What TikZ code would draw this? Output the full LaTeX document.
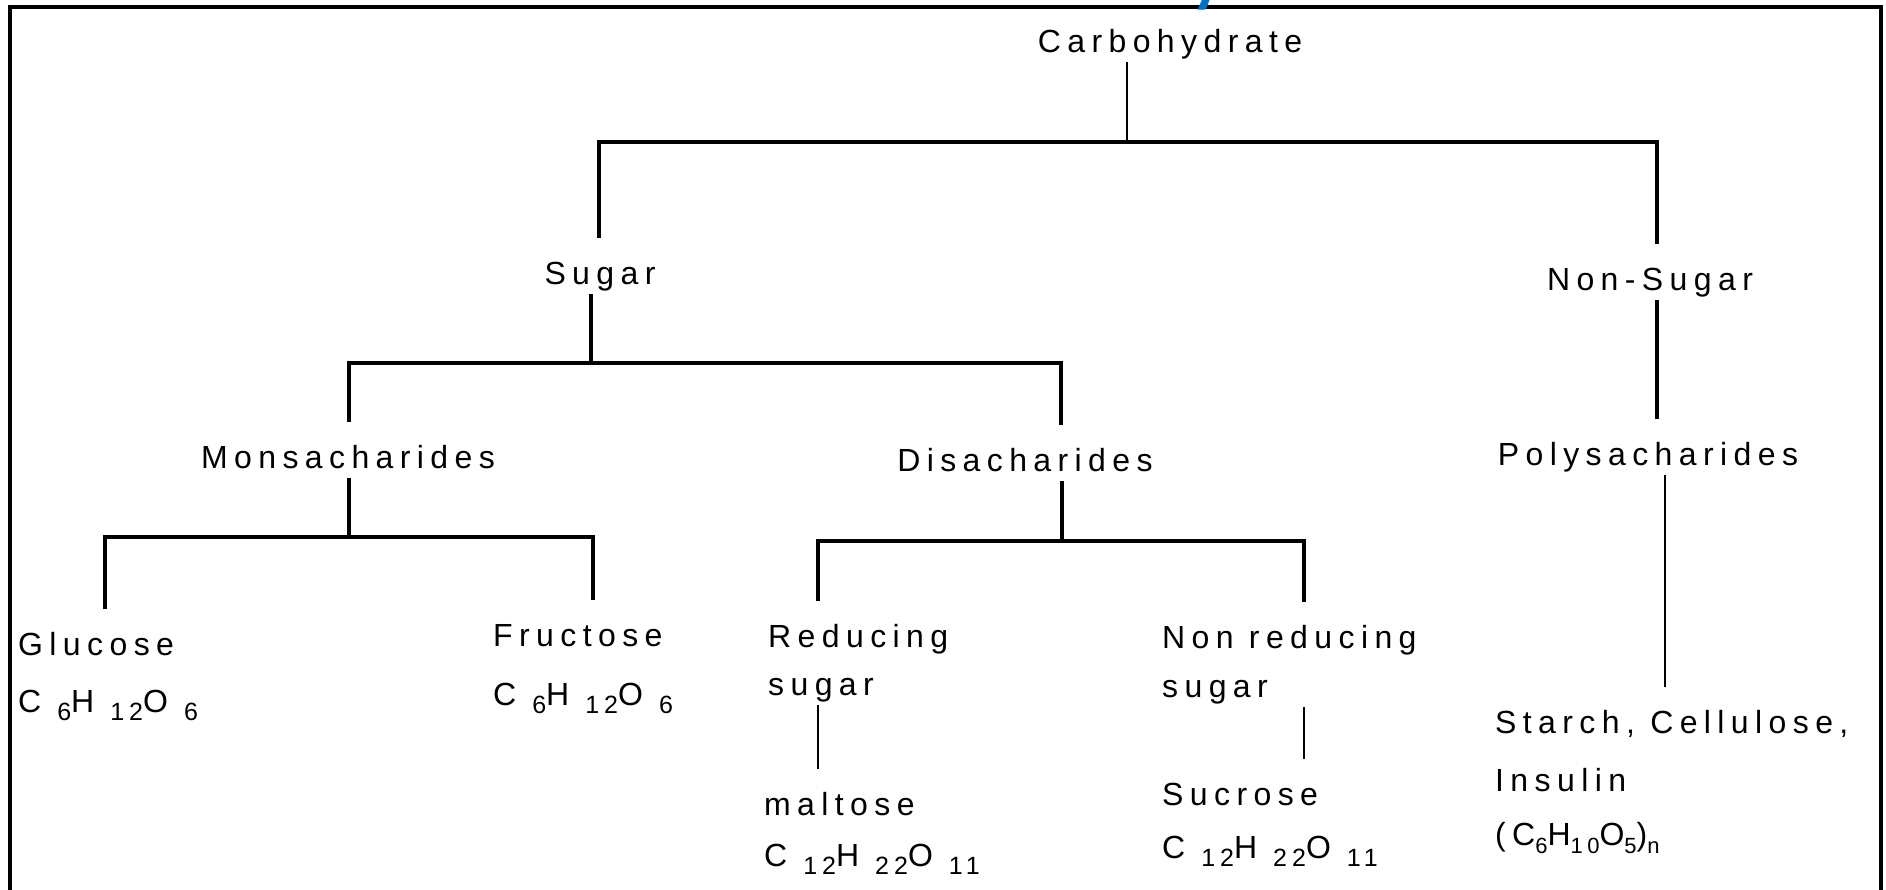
\documentclass[tikz,border=0pt]{standalone}
\usepackage{fontspec}
\setmainfont{Liberation Sans}[LetterSpace=20]
\newfontfamily\titlefont{Carlito}
\definecolor{titleblue}{RGB}{0,112,192}
\newcommand{\sbs}[2][16pt]{\hspace{#1}\raisebox{-8pt}{\fontsize{25}{28}\selectfont #2}}
\newcommand{\sbt}[1]{\raisebox{-8pt}{\fontsize{22}{26}\selectfont #1}}

\begin{document}
\begin{tikzpicture}[x=1pt,y=-1pt,
lbl/.style={inner sep=0pt,text height=46pt,text depth=10pt,
  font=\fontsize{32}{38}\selectfont},
frame/.style={line width=4pt},
bar/.style={line width=4pt},
stem/.style={line width=2.5pt}]
\useasboundingbox (0,0) rectangle (1886,889);
\draw[frame] (10,900) -- (10,7) -- (1881,7) -- (1881,900);
\node[anchor=base,text=titleblue,inner sep=0pt,
  font=\titlefont\bfseries\fontsize{68}{80}\selectfont]
  (title) at (965,-1) {Classification of Carbohydrates};

% levels
\node[lbl,anchor=base] (carb) at (1170,52) {Carbohydrate};
\node[lbl,anchor=base] (sugar) at (600,284) {Sugar};
\node[lbl,anchor=base] (nonsugar) at (1650,290) {Non-Sugar};
\node[lbl,anchor=base] (mono) at (348,468) {Monsacharides};
\node[lbl,anchor=base] (di) at (1025,471) {Disacharides};
\node[lbl,anchor=base] (poly) at (1648,465) {Polysacharides};

% leaves
\node[lbl,anchor=base west] (glu) at (18,655) {Glucose};
\node[lbl,anchor=base west] (glu2) at (18,712) {C\sbs{6}H\sbs{12}O\sbs{6}};
\node[lbl,anchor=base west] (fru) at (493,646) {Fructose};
\node[lbl,anchor=base west] (fru2) at (493,705) {C\sbs{6}H\sbs{12}O\sbs{6}};
\node[lbl,anchor=base west] (red) at (768,647) {Reducing};
\node[lbl,anchor=base west] (red2) at (768,695) {sugar};
\node[lbl,anchor=base west] (malt) at (764,815) {maltose};
\node[lbl,anchor=base west] (malt2) at (764,866) {C\sbs{12}H\sbs{22}O\sbs{11}};
\node[lbl,anchor=base west] (nonred) at (1162,648) {Non reducing};
\node[lbl,anchor=base west] (nonred2) at (1162,697) {sugar};
\node[lbl,anchor=base west] (sucr) at (1162,805) {Sucrose};
\node[lbl,anchor=base west] (sucr2) at (1162,858) {C\sbs{12}H\sbs{22}O\sbs{11}};
\node[lbl,anchor=base west] (starch) at (1495,733) {Starch, Cellulose,};
\node[lbl,anchor=base west] (ins) at (1495,791) {Insulin};
\node[lbl,anchor=base west] (starch3) at (1495,845) {(C\sbt{6}H\sbt{10}O\sbt{5})\sbt{n}};

% bar ends
\coordinate (t0) at (1127,142);
\coordinate (t1) at (599,142);
\coordinate (t2) at (1657,142);
\coordinate (s0) at (591,363);
\coordinate (s1) at (349,363);
\coordinate (s2) at (1061,363);
\coordinate (m0) at (349,537);
\coordinate (m1) at (105,537);
\coordinate (m2) at (593,537);
\coordinate (d0) at (1062,541);
\coordinate (d1) at (818,541);
\coordinate (d2) at (1304,541);
\coordinate (p0) at (1665,683);

\draw[stem] (carb.south -| t0) -- (t0);
\draw[bar] (sugar.north -| t1) |- (t2) -- (nonsugar.north -| t2);
\draw[bar] (sugar.south -| s0) -- (s0);
\draw[bar] (mono.north -| s1) |- (s2) -- (di.north -| s2);
\draw[bar] (nonsugar.south -| t2) -- (poly.north -| t2);
\draw[bar] (mono.south -| m0) -- (m0);
\draw[bar] (glu.north -| m1) |- (m2) -- (fru.north -| m2);
\draw[bar] (di.south -| d0) -- (d0);
\draw[bar] (red.north -| d1) |- (d2) -- (nonred.north -| d2);
\draw[stem] (red2.south -| d1) -- (malt.north -| d1);
\draw[stem] (nonred2.south -| d2) -- (sucr.north -| d2);
\draw[stem] (poly.south -| p0) -- (starch.north -| p0);
\end{tikzpicture}
\end{document}
